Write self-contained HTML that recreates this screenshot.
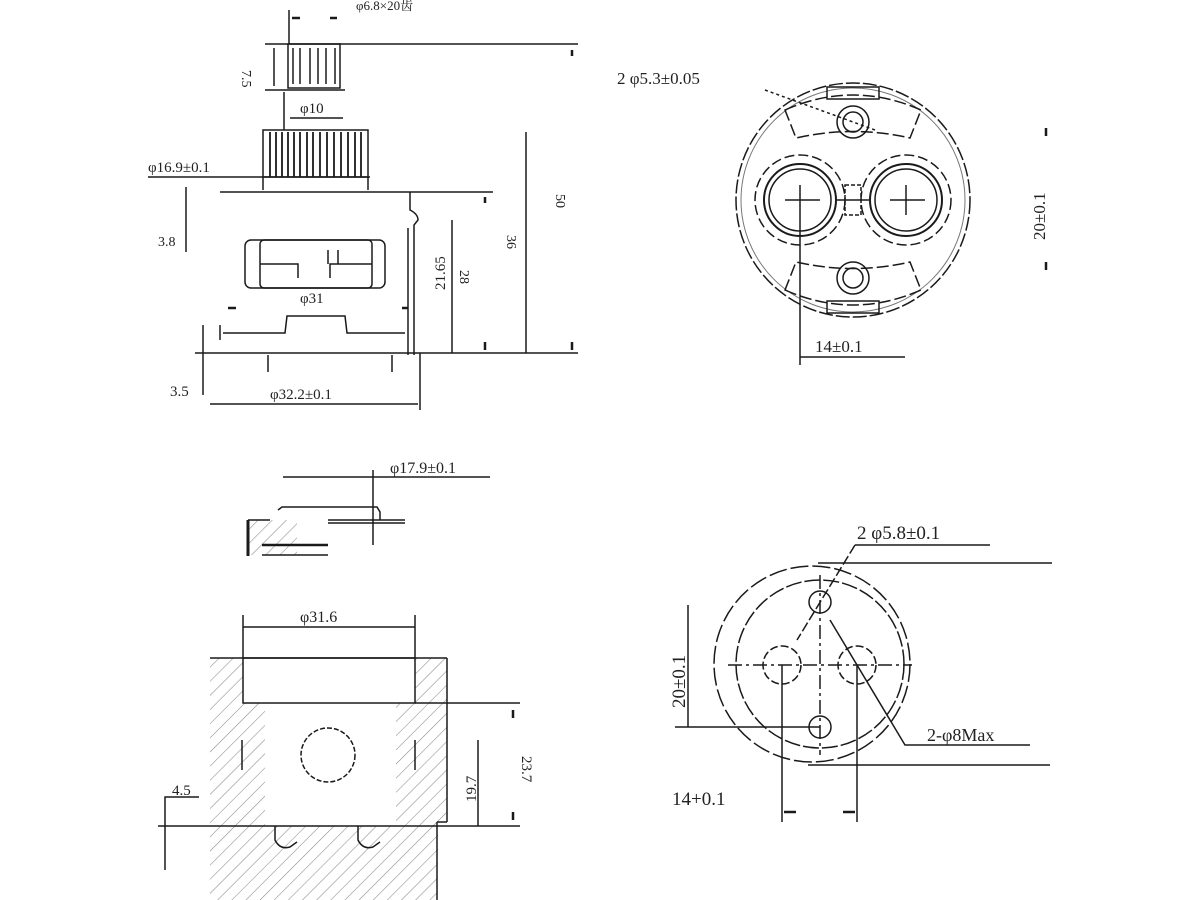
<!DOCTYPE html>
<html><head><meta charset="utf-8"><style>
html,body{margin:0;padding:0;background:#fff;}
svg{display:block;}
text{font-family:"Liberation Serif","Noto Serif CJK SC",serif;fill:#222;}
</style></head><body>
<svg width="1200" height="900" viewBox="0 0 1200 900" xmlns="http://www.w3.org/2000/svg">
<defs>
<pattern id="h" width="10" height="10" patternUnits="userSpaceOnUse" patternTransform="rotate(45)">
<line x1="0" y1="0" x2="0" y2="10" stroke="#888" stroke-width="1.1"/>
</pattern>
</defs>
<g stroke="#1a1a1a" stroke-width="1.5" fill="none">
<!-- TOP LEFT VIEW -->
<line x1="289" y1="10" x2="289" y2="44"/>
<line x1="292" y1="18" x2="300" y2="18" stroke-width="2.5"/><line x1="330" y1="18" x2="337" y2="18" stroke-width="2.5"/>
<line x1="265" y1="44" x2="578" y2="44"/>
<line x1="572" y1="50" x2="572" y2="56" stroke-width="2.5"/>
<rect x="288" y="44" width="52" height="44"/>
<line x1="293" y1="48" x2="293" y2="84"/><line x1="300" y1="48" x2="300" y2="84"/><line x1="310" y1="48" x2="310" y2="84"/><line x1="318" y1="48" x2="318" y2="84"/><line x1="326" y1="48" x2="326" y2="84"/><line x1="335" y1="48" x2="335" y2="84"/>
<line x1="265" y1="90" x2="345" y2="90"/>
<line x1="274" y1="48" x2="274" y2="86"/>
<line x1="284" y1="92" x2="284" y2="130"/>
<line x1="290" y1="118" x2="343" y2="118"/>
<rect x="263" y="130" width="105" height="47"/>
<g stroke-width="1.8">
<line x1="270" y1="132" x2="270" y2="177"/><line x1="276" y1="132" x2="276" y2="177"/><line x1="282" y1="132" x2="282" y2="177"/><line x1="288" y1="132" x2="288" y2="177"/><line x1="294" y1="132" x2="294" y2="177"/><line x1="300" y1="132" x2="300" y2="177"/><line x1="307" y1="132" x2="307" y2="177"/><line x1="313" y1="132" x2="313" y2="177"/><line x1="320" y1="132" x2="320" y2="177"/><line x1="327" y1="132" x2="327" y2="177"/><line x1="334" y1="132" x2="334" y2="177"/><line x1="341" y1="132" x2="341" y2="177"/><line x1="348" y1="132" x2="348" y2="177"/><line x1="355" y1="132" x2="355" y2="177"/><line x1="361" y1="132" x2="361" y2="177"/>
</g>
<line x1="148" y1="177" x2="370" y2="177"/>
<line x1="263" y1="177" x2="263" y2="190"/><line x1="368" y1="177" x2="368" y2="190"/>
<line x1="220" y1="192" x2="493" y2="192"/>
<line x1="485" y1="197" x2="485" y2="203" stroke-width="2.5"/>
<path d="M410 192 L410 210 Q418 214 418 220 L414 225 L414 355"/>
<line x1="408" y1="228" x2="408" y2="355"/>
<line x1="186" y1="187" x2="186" y2="252"/>
<rect x="245" y="240" width="140" height="48" rx="6"/>
<rect x="260" y="240" width="112" height="48" rx="4"/>
<path d="M260 264 L298 264 L298 278 M372 264 L330 264 L330 278 M328 250 L328 264 M338 250 L338 264"/>
<path d="M223 333 L285 333 L287 316 L345 316 L347 333 L405 333"/>
<line x1="220" y1="325" x2="220" y2="340"/>
<line x1="228" y1="308" x2="236" y2="308" stroke-width="2.5"/><line x1="402" y1="308" x2="408" y2="308" stroke-width="2.5"/>
<line x1="195" y1="353" x2="578" y2="353"/>
<line x1="203" y1="325" x2="203" y2="395"/>
<line x1="268" y1="355" x2="268" y2="372"/><line x1="392" y1="355" x2="392" y2="372"/>
<line x1="452" y1="220" x2="452" y2="353"/>
<line x1="526" y1="132" x2="526" y2="353"/>
<line x1="485" y1="342" x2="485" y2="350" stroke-width="2.5"/><line x1="572" y1="342" x2="572" y2="350" stroke-width="2.5"/>
<line x1="210" y1="404" x2="418" y2="404"/>
<line x1="420" y1="353" x2="420" y2="410"/>
<!-- TOP RIGHT VIEW -->
<circle cx="853" cy="200" r="117" stroke-dasharray="14 3"/>
<circle cx="853" cy="200" r="112" stroke="#777" stroke-width="1"/>
<circle cx="800" cy="200" r="45" stroke-dasharray="10 4"/>
<circle cx="906" cy="200" r="45" stroke-dasharray="10 4"/>
<circle cx="800" cy="200" r="36" stroke-width="2"/>
<circle cx="906" cy="200" r="36" stroke-width="2"/>
<circle cx="800" cy="200" r="31"/>
<circle cx="906" cy="200" r="31"/>
<path d="M785 110 Q853 80 921 110 L910 138 Q853 125 796 138 Z" stroke-dasharray="12 4"/>
<path d="M785 290 Q853 320 921 290 L910 262 Q853 275 796 262 Z" stroke-dasharray="12 4"/>
<circle cx="853" cy="122" r="16"/><circle cx="853" cy="122" r="10"/>
<circle cx="853" cy="278" r="16"/><circle cx="853" cy="278" r="10"/>
<rect x="827" y="87" width="52" height="12"/>
<rect x="827" y="301" width="52" height="12"/>
<rect x="845" y="185" width="16" height="30" stroke-dasharray="4 2"/>
<line x1="785" y1="200" x2="820" y2="200"/><line x1="890" y1="200" x2="925" y2="200"/>
<line x1="835" y1="200" x2="870" y2="200"/>
<line x1="800" y1="185" x2="800" y2="365"/>
<line x1="906" y1="185" x2="906" y2="215"/>
<line x1="800" y1="357" x2="905" y2="357"/>
<line x1="765" y1="90" x2="875" y2="130" stroke-dasharray="3 3"/>
<line x1="1046" y1="128" x2="1046" y2="136" stroke-width="2.5"/>
<line x1="1046" y1="262" x2="1046" y2="270" stroke-width="2.5"/>
<!-- BOTTOM LEFT -->
<line x1="283" y1="477" x2="490" y2="477"/>
<line x1="373" y1="470" x2="373" y2="545"/>
<path d="M278 510 L282 507 L377 507 L380 512 L380 520"/>
<line x1="328" y1="520" x2="405" y2="520"/><line x1="328" y1="523" x2="405" y2="523"/>
<rect x="249" y="520" width="48" height="35" fill="url(#h)" stroke="none"/>
<line x1="248" y1="520" x2="248" y2="556" stroke-width="3"/>
<line x1="248" y1="520" x2="270" y2="520"/>
<line x1="262" y1="545" x2="328" y2="545" stroke-width="2.5"/>
<line x1="262" y1="555" x2="328" y2="555"/>
<!-- hatched block -->
<rect x="210" y="658" width="33" height="168" fill="url(#h)" stroke="none"/>
<rect x="415" y="658" width="32" height="168" fill="url(#h)" stroke="none"/>
<rect x="243" y="703" width="22" height="123" fill="url(#h)" stroke="none"/>
<rect x="396" y="703" width="19" height="123" fill="url(#h)" stroke="none"/>
<rect x="210" y="826" width="228" height="74" fill="url(#h)" stroke="none"/>
<line x1="210" y1="658" x2="447" y2="658"/>
<line x1="447" y1="658" x2="447" y2="822"/><line x1="447" y1="822" x2="437" y2="822"/><line x1="437" y1="822" x2="437" y2="900"/>
<rect x="243" y="658" width="172" height="45"/>
<line x1="243" y1="615" x2="243" y2="658"/><line x1="415" y1="615" x2="415" y2="658"/>
<line x1="243" y1="627" x2="415" y2="627"/>
<line x1="415" y1="703" x2="520" y2="703"/>
<line x1="158" y1="826" x2="520" y2="826"/>
<line x1="242" y1="740" x2="242" y2="770"/><line x1="415" y1="740" x2="415" y2="770"/>
<circle cx="328" cy="755" r="27" stroke-dasharray="5 2"/>
<path d="M275 826 L275 840 Q280 850 290 847 L297 842"/>
<path d="M358 826 L358 840 Q363 850 373 847 L380 842"/>
<line x1="478" y1="740" x2="478" y2="826"/>
<line x1="513" y1="710" x2="513" y2="718" stroke-width="2.5"/><line x1="513" y1="812" x2="513" y2="820" stroke-width="2.5"/>
<path d="M199 797 L165 797 L165 870"/>
<!-- BOTTOM RIGHT -->
<circle cx="812" cy="664" r="98" stroke-dasharray="18 4"/>
<circle cx="820" cy="664" r="84" stroke-dasharray="16 3"/>
<circle cx="782" cy="665" r="19" stroke-dasharray="8 3"/>
<circle cx="857" cy="665" r="19" stroke-dasharray="8 3"/>
<circle cx="820" cy="602" r="11"/>
<circle cx="820" cy="727" r="11"/>
<line x1="728" y1="665" x2="912" y2="665" stroke-dasharray="14 4 3 4"/>
<line x1="820" y1="575" x2="820" y2="755" stroke-dasharray="14 4 3 4"/>
<line x1="855" y1="545" x2="990" y2="545"/>
<line x1="855" y1="545" x2="797" y2="640" stroke-dasharray="10 3"/>
<line x1="818" y1="563" x2="1052" y2="563"/>
<line x1="688" y1="605" x2="688" y2="727"/>
<line x1="675" y1="727" x2="820" y2="727"/>
<line x1="808" y1="765" x2="1050" y2="765"/>
<path d="M830 620 L905 745 L1030 745"/>
<line x1="782" y1="665" x2="782" y2="822"/>
<line x1="857" y1="665" x2="857" y2="822"/>
<line x1="784" y1="812" x2="796" y2="812" stroke-width="2.5"/><line x1="843" y1="812" x2="855" y2="812" stroke-width="2.5"/>
</g>
<!-- TEXT -->
<g>
<text x="356" y="10" font-size="13">φ6.8×20齿</text>
<text x="258" y="86" transform="rotate(90 258 70)" font-size="14">7.5</text>
<text x="300" y="113" font-size="15">φ10</text>
<text x="148" y="172" font-size="15">φ16.9±0.1</text>
<text x="158" y="246" font-size="14">3.8</text>
<text x="300" y="303" font-size="15">φ31</text>
<text x="170" y="396" font-size="15">3.5</text>
<text x="270" y="399" font-size="15">φ32.2±0.1</text>
<text x="445" y="290" transform="rotate(-90 445 290)" font-size="15">21.65</text>
<text x="472" y="282" transform="rotate(90 472 270)" font-size="14">28</text>
<text x="510" y="248" transform="rotate(90 515 240)" font-size="14">36</text>
<text x="558" y="208" transform="rotate(90 564 200)" font-size="14">50</text>
<text x="617" y="84" font-size="17">2 φ5.3±0.05</text>
<text x="815" y="352" font-size="17">14±0.1</text>
<text x="1045" y="240" transform="rotate(-90 1045 240)" font-size="17">20±0.1</text>
<text x="390" y="473" font-size="16">φ17.9±0.1</text>
<text x="300" y="622" font-size="16">φ31.6</text>
<text x="172" y="795" font-size="15">4.5</text>
<text x="476" y="802" transform="rotate(-90 476 802)" font-size="15">19.7</text>
<text x="498" y="740" transform="rotate(90 502 760)" font-size="15">23.7</text>
<text x="857" y="539" font-size="19">2 φ5.8±0.1</text>
<text x="685" y="708" transform="rotate(-90 685 708)" font-size="19">20±0.1</text>
<text x="927" y="741" font-size="18">2-φ8Max</text>
<text x="672" y="805" font-size="19">14+0.1</text>
</g>
</svg>
</body></html>
